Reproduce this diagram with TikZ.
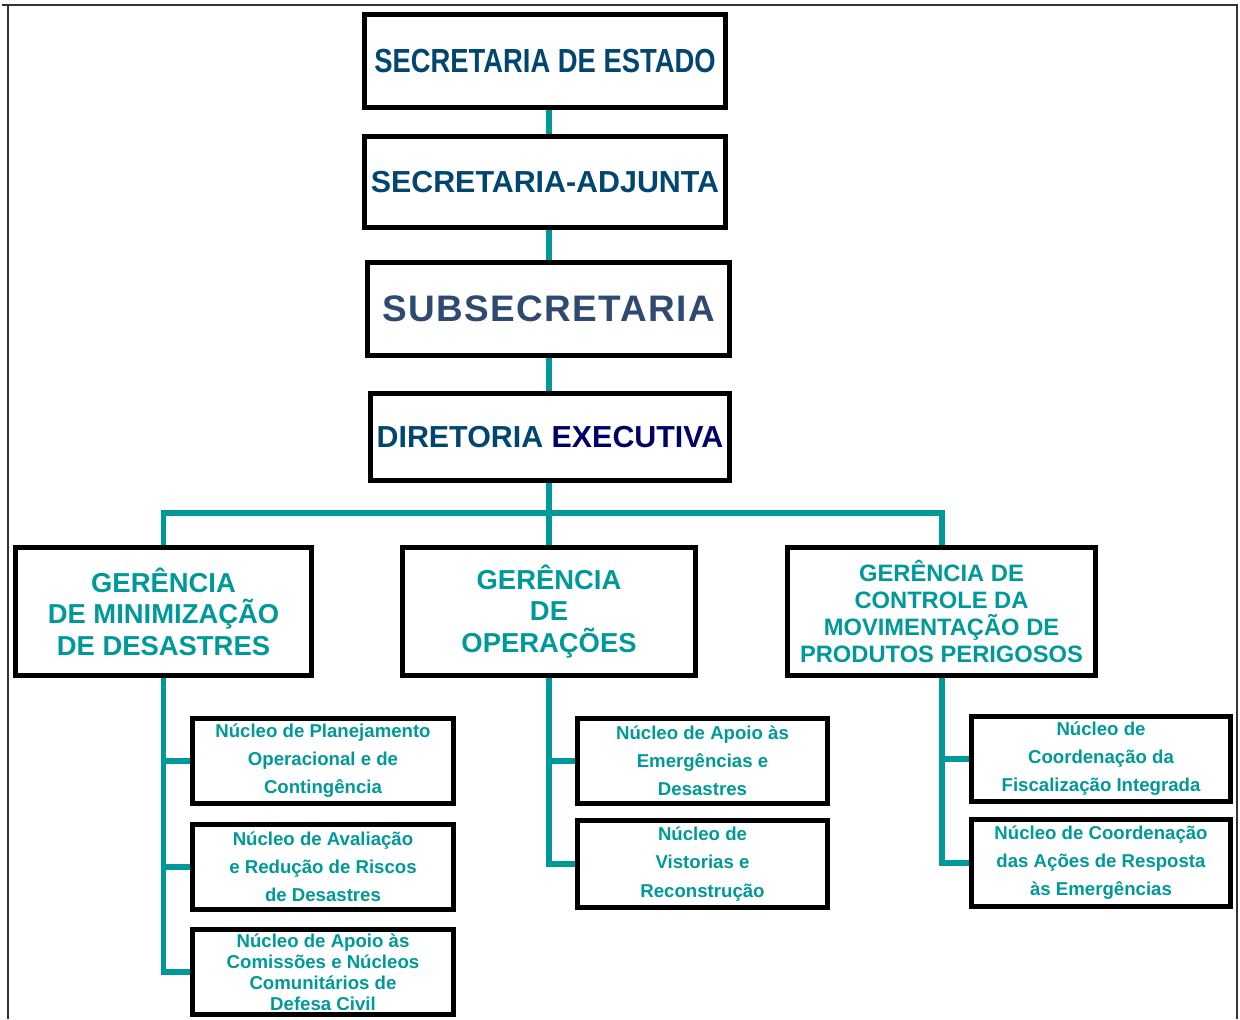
\documentclass[tikz,border=0pt]{standalone}
\usepackage{fontspec}
\setmainfont{Liberation Sans}
\newfontfamily\narrowfont[FakeStretch=0.82]{Liberation Sans}
\newfontfamily\widefont[LetterSpace=4]{Liberation Sans}
\usetikzlibrary{backgrounds}
\definecolor{teal}{RGB}{0,153,153}
\definecolor{chiefblue}{RGB}{0,70,112}
\definecolor{slateblue}{RGB}{46,74,112}
\definecolor{navyblue}{RGB}{0,0,102}
% box from outer corners (x1,y1)-(x2,y2) in pixels
\newcommand{\orgBox}[7][]{\node [orgbox, #1, minimum width={(#5-#3-5)*0.02cm}, minimum height={(#6-#4-5)*0.02cm}] (#2) at ({(#3+#5)/2},{(#4+#6)/2}) {#7};}

\begin{document}
\begin{tikzpicture}[x=0.02cm,y=-0.02cm,line join=miter,
    orgbox/.style={draw=black,fill=white,line width=2.8pt,inner sep=0pt,align=center,font=\bfseries},
    topfont/.style={font={\fontsize{17.3}{20}\selectfont\bfseries},text=chiefblue},
    gerfont/.style={font={\fontsize{15.6}{18}\selectfont\bfseries},text=teal},
    nucfont/.style={font={\fontsize{10.6}{16}\selectfont\bfseries},text=teal},
    link/.style={draw=teal,line width=3.4pt}]
  \useasboundingbox (0,0) rectangle (1240,1019);
  \draw [line width=1.1pt,black!80] (8,1019) -- (8,5) -- (1237,5) -- (1237,1019);
  \draw [line width=1.1pt,black!80] (2,5) -- (8,5);
  \coordinate (spine) at (549,0);

  % top of the hierarchy
  \orgBox[font={\fontsize{19}{20}\narrowfont\bfseries},text=chiefblue]{sec}{362}{12}{728}{110}{SECRETARIA DE ESTADO}
  \orgBox[topfont]{adj}{362}{134}{728}{230}{SECRETARIA-ADJUNTA}
  \orgBox[font={\fontsize{21}{24}\widefont\bfseries},text=slateblue]{sub}{365}{260}{732}{358}{SUBSECRETARIA}
  \orgBox[topfont]{dir}{368}{391}{732}{483}{DIRETORIA \textcolor{navyblue}{EXECUTIVA}}

  % gerencias
  \orgBox[gerfont]{gmin}{13}{545}{314}{678}{GERÊNCIA\\DE MINIMIZAÇÃO\\DE DESASTRES}
  \orgBox[gerfont]{gop}{400}{545}{698}{678}{GERÊNCIA\\DE\\OPERAÇÕES}
  \orgBox[gerfont,font={\fontsize{13.5}{15.3}\selectfont\bfseries}]{gpp}{785}{545}{1098}{678}{GERÊNCIA DE\\CONTROLE DA\\MOVIMENTAÇÃO DE\\PRODUTOS PERIGOSOS}

  % nucleos
  \orgBox[nucfont]{nplan}{190}{716}{456}{806}{Núcleo de Planejamento\\Operacional e de\\Contingência}
  \orgBox[nucfont]{naval}{190}{822}{456}{912}{Núcleo de Avaliação\\e Redução de Riscos\\de Desastres}
  \orgBox[nucfont,font={\fontsize{10.6}{11.9}\selectfont\bfseries}]{ncom}{190}{927}{456}{1017}{Núcleo de Apoio às\\Comissões e Núcleos\\Comunitários de\\Defesa Civil}
  \orgBox[nucfont]{nemer}{575}{716}{830}{806}{Núcleo de Apoio às\\Emergências e\\Desastres}
  \orgBox[nucfont]{nvist}{575}{818}{830}{910}{Núcleo de\\Vistorias e\\Reconstrução}
  \orgBox[nucfont]{nfisc}{969}{714}{1233}{804}{Núcleo de\\Coordenação da\\Fiscalização Integrada}
  \orgBox[nucfont]{nresp}{969}{817}{1233}{909}{Núcleo de Coordenação\\das Ações de Resposta\\às Emergências}

  \begin{scope}[on background layer]
    \draw [link] (sec.south -| spine) -- (adj.north -| spine);
    \draw [link] (adj.south -| spine) -- (sub.north -| spine);
    \draw [link] (sub.south -| spine) -- (dir.north -| spine);
    \draw [link] (dir.south -| spine) -- (gop.north -| spine);
    \draw [link] (gmin.north) |- (549,513) -| (gpp.north);
    \foreach \n in {nplan,naval,ncom}
      \draw [link] (gmin.south) |- (\n.west);
    \foreach \n in {nemer,nvist}
      \draw [link] (gop.south) |- (\n.west);
    \foreach \n in {nfisc,nresp}
      \draw [link] (gpp.south) |- (\n.west);
  \end{scope}
\end{tikzpicture}
\end{document}
